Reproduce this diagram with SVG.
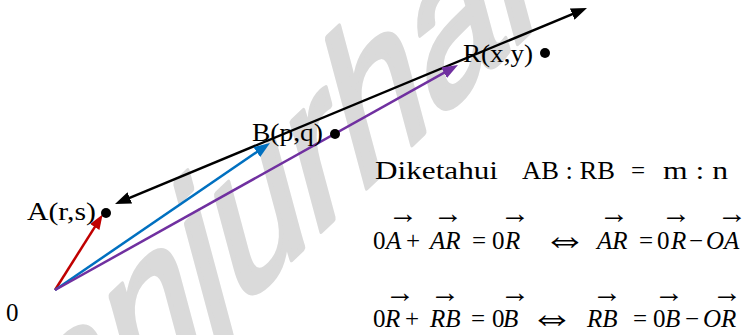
<svg xmlns="http://www.w3.org/2000/svg" width="750" height="335" viewBox="0 0 750 335">
<style>
.wm{font-family:"Liberation Sans","Open Sans",sans-serif;font-size:100px;fill:#dadada;stroke:#dadada;stroke-width:3;stroke-linejoin:round}
.lbl{font-family:"Liberation Serif","Times New Roman",serif;font-size:25px;fill:#000}
.eq{font-family:"Liberation Serif","DejaVu Serif",serif;font-size:25px;fill:#000}
.it{font-style:italic}
.iff{font-family:"Liberation Serif",serif;font-size:45px;fill:#000;text-anchor:middle}
.vec{font-family:"Liberation Serif",serif;font-size:30px;fill:#000;text-anchor:middle}
.ln{fill:none;stroke-width:2.5}
</style>
<defs>
<marker id="hk" viewBox="0 0 16 12" refX="8" refY="6" markerWidth="16" markerHeight="12" markerUnits="userSpaceOnUse" orient="auto-start-reverse"><path d="M0,0 L16,6 L0,12 z" fill="#000"/></marker>
<marker id="hr" viewBox="0 0 16 12" refX="8" refY="6" markerWidth="15" markerHeight="11" markerUnits="userSpaceOnUse" orient="auto"><path d="M0,0 L16,6 L0,12 z" fill="#c00000"/></marker>
<marker id="hb" viewBox="0 0 16 12" refX="8" refY="6" markerWidth="16" markerHeight="12" markerUnits="userSpaceOnUse" orient="auto"><path d="M0,0 L16,6 L0,12 z" fill="#0070c0"/></marker>
<marker id="hp" viewBox="0 0 16 12" refX="8" refY="6" markerWidth="16" markerHeight="12" markerUnits="userSpaceOnUse" orient="auto"><path d="M0,0 L16,6 L0,12 z" fill="#7030a0"/></marker>
</defs>
<rect width="750" height="335" fill="#fff"/>
<g id="watermark">
<text class="wm" transform="matrix(1.36 -1.3 0.55 2.05 55 485)" x="0" y="0">anjurhal</text>
</g>
<g id="connectors">
<line class="ln" x1="122.4" y1="200.9" x2="579.6" y2="11.1" stroke="#000" marker-start="url(#hk)" marker-end="url(#hk)"/>
<line class="ln" x1="55" y1="290" x2="98.7" y2="220.8" stroke="#c00000" marker-end="url(#hr)"/>
<line class="ln" x1="55" y1="290" x2="263.4" y2="147.5" stroke="#0070c0" marker-end="url(#hb)"/>
<line class="ln" x1="55" y1="290" x2="451" y2="68.9" stroke="#7030a0" marker-end="url(#hp)"/>
</g>
<g id="node-O">
<text class="lbl" x="6" y="321" font-size="26">0</text>
</g>
<g id="node-A">
<circle cx="106" cy="213" r="5" fill="#000"/>
<text class="lbl" x="27" y="220" textLength="69" lengthAdjust="spacingAndGlyphs">A(r,s)</text>
</g>
<g id="node-B">
<circle cx="335" cy="134" r="5" fill="#000"/>
<text class="lbl" x="252" y="141" textLength="71" lengthAdjust="spacingAndGlyphs">B(p,q)</text>
</g>
<g id="node-R">
<circle cx="545" cy="53" r="5" fill="#000"/>
<text class="lbl" x="463" y="62" textLength="70" lengthAdjust="spacingAndGlyphs">R(x,y)</text>
</g>
<g id="given">
<text class="lbl" y="179" font-size="23" x="375" textLength="123" lengthAdjust="spacingAndGlyphs">Diketahui</text>
<text class="lbl" y="179" font-size="23" x="522" textLength="93" lengthAdjust="spacingAndGlyphs">AB : RB</text>
<text class="lbl" y="179" font-size="23" x="631">=</text>
<text class="lbl" y="179" font-size="23" x="663" textLength="65" lengthAdjust="spacingAndGlyphs">m : n</text>
</g>
<g id="eq1">
<text class="eq" y="249"><tspan x="373">0</tspan><tspan class="it" x="386">A</tspan><tspan x="406">+</tspan><tspan class="it" x="430">AR</tspan><tspan x="472">=</tspan><tspan x="492">0</tspan><tspan class="it" x="505">R</tspan><tspan class="it" x="597">AR</tspan><tspan x="639">=</tspan><tspan x="657">0</tspan><tspan class="it" x="671">R</tspan><tspan x="689">−</tspan><tspan class="it" x="706">OA</tspan></text>
<text class="iff" x="565" y="253">⇔</text>
<text class="vec" y="223"><tspan x="403">→</tspan><tspan x="448">→</tspan><tspan x="515">→</tspan><tspan x="614">→</tspan><tspan x="676">→</tspan><tspan x="732">→</tspan></text>
</g>
<g id="eq2">
<text class="eq" y="327"><tspan x="373">0</tspan><tspan class="it" x="385">R</tspan><tspan x="405">+</tspan><tspan class="it" x="430">RB</tspan><tspan x="471">=</tspan><tspan x="492">0</tspan><tspan class="it" x="503">B</tspan><tspan class="it" x="587">RB</tspan><tspan x="633">=</tspan><tspan x="653">0</tspan><tspan class="it" x="665">B</tspan><tspan x="685">−</tspan><tspan class="it" x="703">OR</tspan></text>
<text class="iff" x="552" y="331">⇔</text>
<text class="vec" y="302"><tspan x="400">→</tspan><tspan x="445">→</tspan><tspan x="515">→</tspan><tspan x="607">→</tspan><tspan x="669">→</tspan><tspan x="727">→</tspan></text>
</g>
</svg>
